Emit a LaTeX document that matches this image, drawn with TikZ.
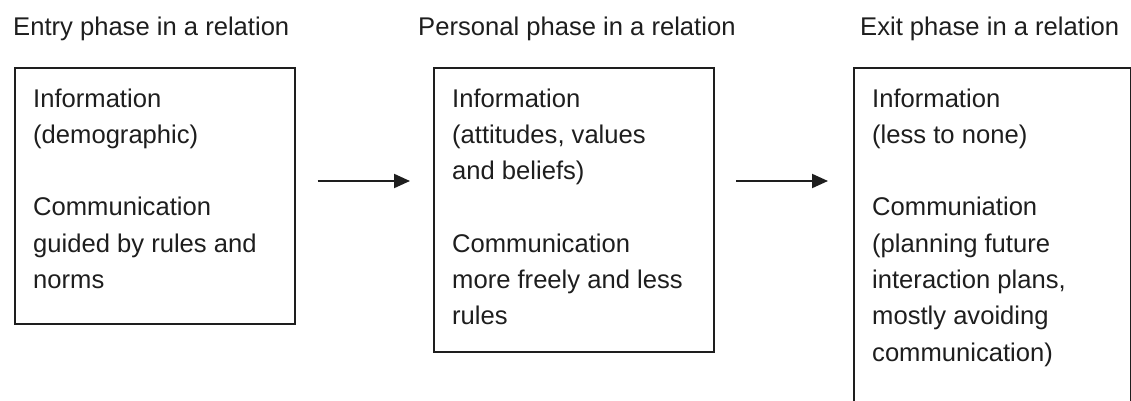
\documentclass[tikz,border=0pt]{standalone}
\usepackage{fontspec}
\setmainfont{Liberation Sans}
\usetikzlibrary{arrows.meta,calc}
\definecolor{ink}{HTML}{1E1E1E}
\begin{document}
\begin{tikzpicture}[x=1pt,y=-1pt,
  phasebox/.style={draw=ink, line width=2pt, inner sep=0pt, anchor=north west},
  title/.style={anchor=base west, inner sep=0pt, text=ink, font=\fontsize{25.6}{36}\selectfont},
  body/.style={anchor=north west, inner sep=0pt, align=left, text=ink, font=\fontsize{25.6}{36.3}\selectfont},
  arr/.style={draw=ink, line width=2pt, -{Triangle[length=16pt,width=14pt]}}]
\useasboundingbox (0,0) rectangle (1131,401);
\clip (0,0) rectangle (1131,401);
\fill[white] (0,0) rectangle (1131,401);
% titles
\node[title] (h1) at (13,36) {Entry phase in a relation};
\node[title] (h2) at (418,36) {Personal phase in a relation};
\node[title] (h3) at (860,36) {Exit phase in a relation};
% boxes
\node[phasebox, minimum width=280pt, minimum height=255pt] (b1) at (13.5,67.5) {};
\node[phasebox, minimum width=280pt, minimum height=283pt] (b2) at (433,67.5) {};
\node[phasebox, minimum width=277pt, minimum height=360pt] (b3) at (853,67.5) {};
% texts
\node[body] (t1) at (33,88.3) {Information\\(demographic)\\[36.3pt]Communication\\guided by rules and\\norms};
\node[body] (t2) at (452,88.3) {Information\\(attitudes, values\\and beliefs)\\[36.3pt]Communication\\more freely and less\\rules};
\node[body] (t3) at (872,88.3) {Information\\(less to none)\\[36.3pt]Communiation\\(planning future\\interaction plans,\\mostly avoiding\\communication)};
% arrows
\coordinate (ay) at (0,181);
\draw[arr, shorten <=22pt, shorten >=23pt] (b1.east |- ay) -- (b2.west |- ay);
\draw[arr, shorten <=21pt, shorten >=25pt] (b2.east |- ay) -- (b3.west |- ay);
\end{tikzpicture}
\end{document}
